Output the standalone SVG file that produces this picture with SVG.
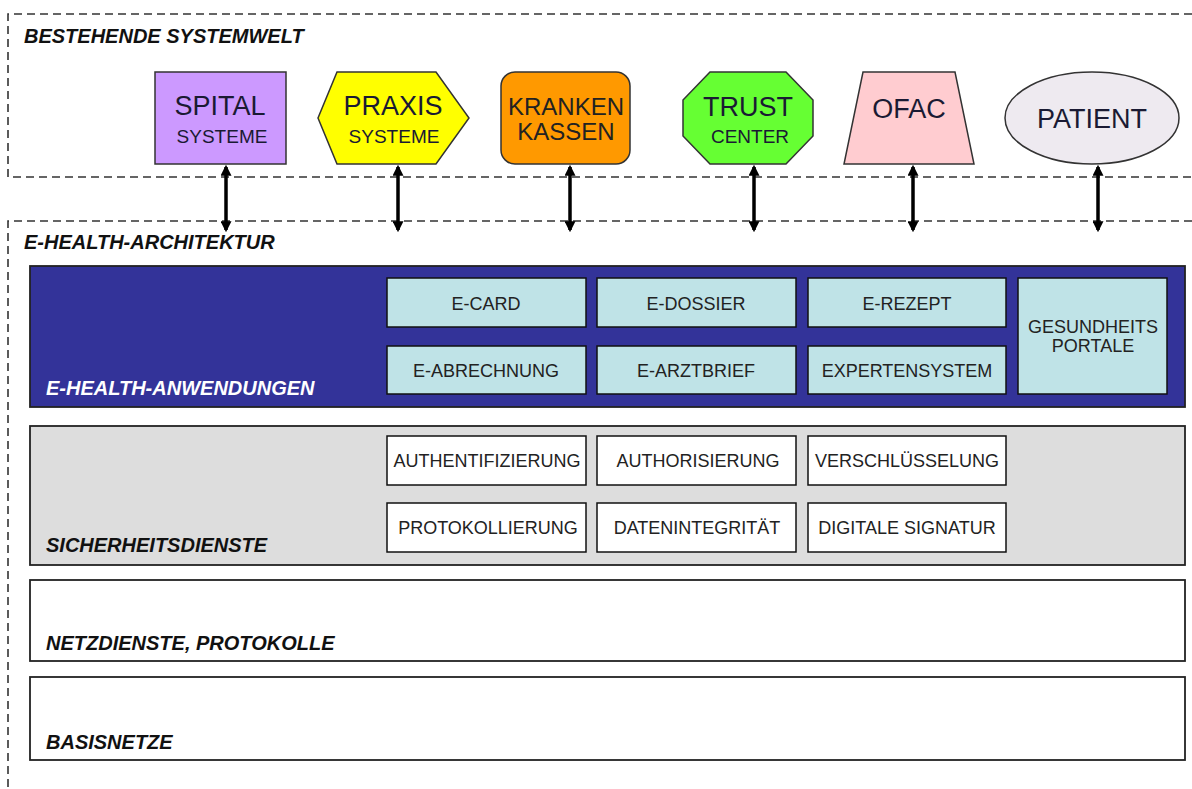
<svg xmlns="http://www.w3.org/2000/svg" width="1192" height="789" viewBox="0 0 1192 789">
  <defs>
    <style>
      text { font-family: "Liberation Sans", Arial, sans-serif; }
      .zone { fill: none; stroke: #333; stroke-width: 1.6; stroke-dasharray: 8 5; }
      .title { font-size: 20px; font-weight: bold; font-style: italic; fill: #111; }
      .title-w { font-size: 20px; font-weight: bold; font-style: italic; fill: #fff; }
      .shape { stroke: #333; stroke-width: 1.5; }
      .big { font-size: 27px; fill: #1a1a33; text-anchor: middle; }
      .small { font-size: 19px; fill: #1a1a33; text-anchor: middle; }
      .layer { stroke: #222; stroke-width: 1.8; }
      .app { fill: #BFE3E7; stroke: #111; stroke-width: 1.5; }
      .svc { fill: #fff; stroke: #111; stroke-width: 1.5; }
      .lbl { font-size: 18px; fill: #222; text-anchor: middle; }
      .link { stroke: #000; stroke-width: 3.5; fill: none; marker-start: url(#head); marker-end: url(#head); }
    </style>
    <marker id="head" viewBox="0 0 10 10" refX="8" refY="5" markerWidth="11" markerHeight="11" markerUnits="userSpaceOnUse" orient="auto-start-reverse">
      <path d="M0,0 L10,5 L0,10 z" fill="#000"/>
    </marker>
  </defs>

  <rect width="1192" height="789" fill="#fff"/>

  <!-- dashed zones -->
  <g id="zones">
    <path class="zone" d="M1192,14 H8 V177 H1192"/>
    <text class="title" x="24" y="43">BESTEHENDE SYSTEMWELT</text>
    <path class="zone" d="M1192,221 H8 V789"/>
    <text class="title" x="24" y="249">E-HEALTH-ARCHITEKTUR</text>
  </g>

  <!-- existing systems -->
  <g id="spital">
    <rect class="shape" x="155" y="72" width="131" height="92" fill="#CC99FF"/>
    <text class="big" x="220" y="115">SPITAL</text>
    <text class="small" x="222" y="143">SYSTEME</text>
  </g>
  <g id="praxis">
    <polygon class="shape" points="337,72 436,72 469,118 436,164 337,164 318,118" fill="#FFFF00"/>
    <text class="big" x="393" y="115">PRAXIS</text>
    <text class="small" x="394" y="143">SYSTEME</text>
  </g>
  <g id="krankenkassen">
    <rect class="shape" x="501" y="72" width="129" height="92" rx="14" fill="#FF9900"/>
    <text class="lbl" x="566" y="115" style="font-size:24px">KRANKEN</text>
    <text class="lbl" x="566" y="140" style="font-size:24px">KASSEN</text>
  </g>
  <g id="trustcenter">
    <polygon class="shape" points="710,72 786,72 813,100 813,136 786,164 710,164 683,136 683,100" fill="#66FF33"/>
    <text class="big" x="748" y="116">TRUST</text>
    <text class="small" x="750" y="143">CENTER</text>
  </g>
  <g id="ofac">
    <polygon class="shape" points="863,72 955,72 974,164 844,164" fill="#FFCCD0"/>
    <text class="big" x="909" y="118">OFAC</text>
  </g>
  <g id="patient">
    <ellipse class="shape" cx="1092" cy="118" rx="87" ry="46" fill="#EEEAF0"/>
    <text class="big" x="1092" y="128">PATIENT</text>
  </g>

  <!-- links into the architecture -->
  <g id="connectors">
    <line class="link" x1="226" y1="167" x2="226" y2="230"/>
    <line class="link" x1="398" y1="167" x2="398" y2="230"/>
    <line class="link" x1="570" y1="167" x2="570" y2="230"/>
    <line class="link" x1="754" y1="167" x2="754" y2="230"/>
    <line class="link" x1="913" y1="167" x2="913" y2="230"/>
    <line class="link" x1="1098" y1="167" x2="1098" y2="230"/>
  </g>

  <!-- application layer -->
  <g id="anwendungen">
    <rect class="layer" x="30" y="266" width="1155" height="141" fill="#333399"/>
    <text class="title-w" x="46" y="395">E-HEALTH-ANWENDUNGEN</text>
  </g>
  <g id="e-card"><rect class="app" x="387" y="278" width="199" height="49"/><text class="lbl" x="486" y="310">E-CARD</text></g>
  <g id="e-dossier"><rect class="app" x="597" y="278" width="199" height="49"/><text class="lbl" x="696" y="310">E-DOSSIER</text></g>
  <g id="e-rezept"><rect class="app" x="808" y="278" width="198" height="49"/><text class="lbl" x="907" y="310">E-REZEPT</text></g>
  <g id="e-abrechnung"><rect class="app" x="387" y="346" width="199" height="48"/><text class="lbl" x="486" y="377">E-ABRECHNUNG</text></g>
  <g id="e-arztbrief"><rect class="app" x="597" y="346" width="199" height="48"/><text class="lbl" x="696" y="377">E-ARZTBRIEF</text></g>
  <g id="expertensystem"><rect class="app" x="808" y="346" width="198" height="48"/><text class="lbl" x="907" y="377">EXPERTENSYSTEM</text></g>
  <g id="gesundheitsportale">
    <rect class="app" x="1018" y="278" width="149" height="116"/>
    <text class="lbl" x="1093" y="333">GESUNDHEITS</text>
    <text class="lbl" x="1093" y="352">PORTALE</text>
  </g>

  <!-- security layer -->
  <g id="sicherheitsdienste">
    <rect class="layer" x="30" y="426" width="1155" height="139" fill="#DDDDDD"/>
    <text class="title" x="46" y="552">SICHERHEITSDIENSTE</text>
  </g>
  <g id="authentifizierung"><rect class="svc" x="387" y="436" width="199" height="49"/><text class="lbl" x="487" y="467">AUTHENTIFIZIERUNG</text></g>
  <g id="authorisierung"><rect class="svc" x="597" y="436" width="199" height="49"/><text class="lbl" x="698" y="467">AUTHORISIERUNG</text></g>
  <g id="verschluesselung"><rect class="svc" x="808" y="436" width="198" height="49"/><text class="lbl" x="907" y="467">VERSCHLÜSSELUNG</text></g>
  <g id="protokollierung"><rect class="svc" x="387" y="503" width="199" height="49"/><text class="lbl" x="488" y="534">PROTOKOLLIERUNG</text></g>
  <g id="datenintegritaet"><rect class="svc" x="597" y="503" width="199" height="49"/><text class="lbl" x="697" y="534">DATENINTEGRITÄT</text></g>
  <g id="digitale-signatur"><rect class="svc" x="808" y="503" width="198" height="49"/><text class="lbl" x="907" y="534">DIGITALE SIGNATUR</text></g>

  <!-- network layers -->
  <g id="netzdienste">
    <rect class="layer" x="30" y="580" width="1155" height="81" fill="#fff"/>
    <text class="title" x="46" y="650">NETZDIENSTE, PROTOKOLLE</text>
  </g>
  <g id="basisnetze">
    <rect class="layer" x="30" y="677" width="1155" height="83" fill="#fff"/>
    <text class="title" x="46" y="749">BASISNETZE</text>
  </g>
</svg>
